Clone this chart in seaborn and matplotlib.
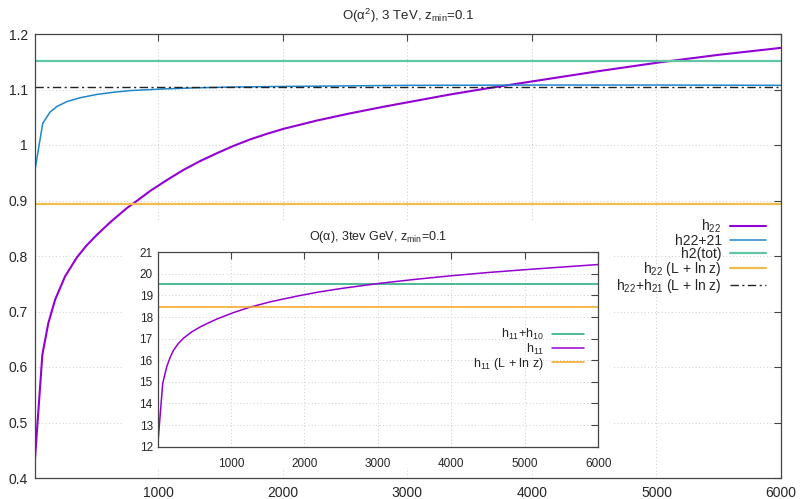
import numpy as np
import pandas as pd
import matplotlib
matplotlib.use("Agg")
import matplotlib.pyplot as plt
import matplotlib.ticker as mticker
from matplotlib.patches import Rectangle
import seaborn as sns

# ---------------- data ----------------
# main panel: O(alpha^2), 3 TeV
h22_x = [10, 69, 117, 171, 251, 345, 420, 506, 620, 746, 850, 933, 1070, 1201,
         1335, 1469, 1600, 1737, 1870, 2004, 2272, 2540, 2810, 3076, 3343, 3611,
         4000, 4548, 5029, 5500, 6000]
h22_y = [0.435, 0.622, 0.679, 0.721, 0.763, 0.797, 0.818, 0.838, 0.862, 0.886,
         0.903, 0.917, 0.937, 0.955, 0.971, 0.985, 0.998, 1.010, 1.020, 1.029,
         1.044, 1.057, 1.069, 1.080, 1.091, 1.101, 1.1145, 1.1335, 1.149,
         1.1625, 1.175]
h22_21_x = [10, 72, 130, 183, 264, 370, 504, 640, 771, 1040, 1300, 1600, 2000,
            2500, 3000, 4000, 5000, 6000]
h22_21_y = [0.955, 1.039, 1.059, 1.069, 1.078, 1.085, 1.091, 1.095, 1.098,
            1.101, 1.103, 1.1045, 1.1055, 1.1065, 1.1075, 1.108, 1.108, 1.1075]
h2_tot = 1.151
h22_Llnz = 0.893
h22_h21_Llnz = 1.104

# inset: O(alpha), 3 TeV
h11_x = [10, 70, 125, 170, 215, 280, 350, 460, 580, 700, 810, 1030, 1255, 1530,
         1933, 2200, 2500, 3025, 3500, 4000, 4500, 5000, 5500, 6000]
h11_y = [12.38, 14.93, 15.70, 16.12, 16.45, 16.76, 17.01, 17.30, 17.54, 17.74,
         17.91, 18.20, 18.45, 18.70, 18.99, 19.16, 19.32, 19.56, 19.74, 19.91,
         20.06, 20.19, 20.31, 20.43]
h11_h10 = 19.55
h11_Llnz = 18.48

main_xticks = [1000, 2000, 3000, 4000, 5000, 6000]
main_yticks = [0.4, 0.5, 0.6, 0.7, 0.8, 0.9, 1.0, 1.1, 1.2]
inset_xticks = [1000, 2000, 3000, 4000, 5000, 6000]
inset_yticks = [12, 13, 14, 15, 16, 17, 18, 19, 20, 21]

main_title = "O(α$^{2}$), 3 TeV, z$_{\\mathrm{min}}$=0.1"
inset_title = "O(α), 3tev GeV, z$_{\\mathrm{min}}$=0.1"
main_labels = ["h$_{22}$", "h22+21", "h2(tot)", "h$_{22}$ (L + ln z)",
               "h$_{22}$+h$_{21}$ (L + ln z)"]
inset_labels = ["h$_{11}$+h$_{10}$", "h$_{11}$", "h$_{11}$ (L + ln z)"]

# ---------------- style ----------------
sns.set_style("white")
plt.rcParams["font.family"] = ["Liberation Sans", "DejaVu Sans"]
plt.rcParams["mathtext.fontset"] = "custom"
plt.rcParams["mathtext.rm"] = "Liberation Sans"
plt.rcParams["mathtext.it"] = "Liberation Sans:italic"
plt.rcParams["mathtext.bf"] = "Liberation Sans:bold"

PURPLE = "#9400d3"
BLUE = "#1f86cc"
GREEN_M = "#62c6a6"
ORANGE_M = "#f0bd4e"
GREEN_I = "#1aa77a"
ORANGE_I = "#f2a41a"
SPINE = "#444444"
GRID = "#cccccc"

fig = plt.figure(figsize=(8.0, 4.99), dpi=100)
W, H = 800.0, 499.0

def px_axes(l, t, r, b):
    return [l / W, (H - b) / H, (r - l) / W, (b - t) / H]

ax = fig.add_axes(px_axes(35, 34, 781, 478))
ax.set_zorder(0)

df_h22 = pd.DataFrame({"x": h22_x, "y": h22_y})
df_h2221 = pd.DataFrame({"x": h22_21_x, "y": h22_21_y})

sns.lineplot(data=df_h22, x="x", y="y", ax=ax, color=PURPLE, lw=1.5,
             label=main_labels[0])
sns.lineplot(data=df_h2221, x="x", y="y", ax=ax, color=BLUE, lw=1.1,
             label=main_labels[1])
ax.axhline(h2_tot, color=GREEN_M, lw=1.6, label=main_labels[2])
ax.axhline(h22_Llnz, color=ORANGE_M, lw=1.6, label=main_labels[3])
ax.axhline(h22_h21_Llnz, color="#222222", lw=1.0, ls=(0, (6, 2.5, 1.5, 2.5)),
           label=main_labels[4])

ax.set_xlim(10, 6000)
ax.set_ylim(0.4, 1.2)
ax.set_xticks(main_xticks)
ax.set_yticks(main_yticks)
ax.yaxis.set_major_formatter(mticker.FormatStrFormatter("%g"))
ax.set_xlabel("")
ax.set_ylabel("")
ax.grid(True, ls=(0, (1, 2.5)), color=GRID, lw=0.7)
ax.tick_params(direction="in", length=5, width=0.8, color=SPINE,
               labelsize=10, pad=5, top=True, right=True)
ax.tick_params(axis="x", pad=6)
for s in ax.spines.values():
    s.set_color(SPINE)
    s.set_linewidth(0.9)
ax.set_title(main_title, fontsize=9.5, pad=10)

leg = ax.legend(loc="center right", bbox_to_anchor=((766 - 35) / 746.0, (478 - 256.5) / 444.0),
                frameon=False, markerfirst=False, fontsize=10, handlelength=2.6,
                handletextpad=0.6, labelspacing=-0.08, borderpad=0, borderaxespad=0)

# white area cleared for the inset (as gnuplot multiplot does)
fig.patches.append(Rectangle((123 / W, (H - 468) / H), (612 - 123) / W, (468 - 222) / H,
                             transform=fig.transFigure, facecolor="white",
                             edgecolor="none", zorder=0.5))

# ---------------- inset ----------------
axi = fig.add_axes(px_axes(158.3, 252.2, 598.3, 446.6))
axi.set_zorder(1)
df_h11 = pd.DataFrame({"x": h11_x, "y": h11_y})
axi.axhline(h11_h10, color=GREEN_I, lw=1.1, label=inset_labels[0])
sns.lineplot(data=df_h11, x="x", y="y", ax=axi, color=PURPLE, lw=1.1,
             label=inset_labels[1])
axi.axhline(h11_Llnz, color=ORANGE_I, lw=1.1, label=inset_labels[2])
axi.set_xlim(10, 6000)
axi.set_ylim(12, 21)
axi.set_xticks(inset_xticks)
axi.set_yticks(inset_yticks)
axi.set_xlabel("")
axi.set_ylabel("")
axi.grid(True, ls=(0, (1, 2.5)), color=GRID, lw=0.7)
axi.tick_params(direction="in", length=5, width=0.8, color=SPINE,
                labelsize=8.5, pad=4, top=True, right=True)
axi.tick_params(axis="x", pad=8)
for s in axi.spines.values():
    s.set_color(SPINE)
    s.set_linewidth(0.9)
axi.set_title(inset_title, fontsize=9, pad=9)
axi.legend(loc="center right", bbox_to_anchor=((584.3 - 158.3) / 440.0, (446.6 - 349.5) / 194.4),
           frameon=False, markerfirst=False, fontsize=9, handlelength=2.6,
           handletextpad=0.6, labelspacing=-0.06, borderpad=0, borderaxespad=0)

fig.savefig("out.png", dpi=100)
